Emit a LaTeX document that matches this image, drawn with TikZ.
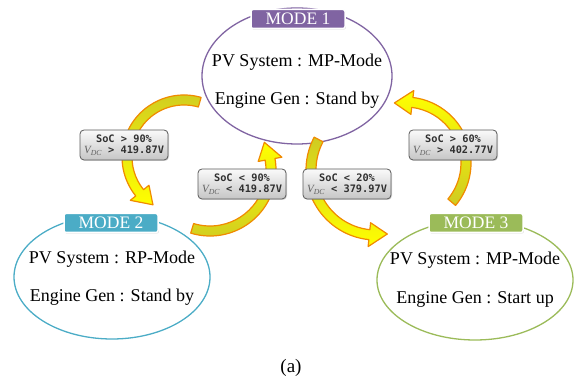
\documentclass[tikz,border=0pt]{standalone}
\usepackage{fontspec}
\setmainfont{Liberation Serif}
\newfontfamily\condfont{DejaVu Sans Mono}
\usetikzlibrary{shapes.geometric,shadows}

\definecolor{modeA}{HTML}{8064A2}
\definecolor{modeB}{HTML}{4BACC6}
\definecolor{modeC}{HTML}{9BBB59}
\definecolor{arrowline}{HTML}{F08A00}
\definecolor{arrowdark}{HTML}{CFCB22}
\definecolor{arrowlight}{HTML}{FFFF00}
\definecolor{condtext}{HTML}{303030}
\definecolor{condv}{HTML}{606060}
\definecolor{condborder}{HTML}{5A5A5A}

% thick curved block arrow: center, radius, tail angle, tip angle, fill options
\newcommand{\curvedarrow}[5]{%
  \pgfmathsetmacro\headang{18/#2*57.2958}%
  \pgfmathsetmacro\headbase{#4-\headang}%
  \pgfmathsetmacro\rout{#2+5}%
  \pgfmathsetmacro\rin{#2-5}%
  \pgfmathsetmacro\hout{#2+12}%
  \pgfmathsetmacro\hin{#2-12}%
  \path[arrowbody,#5,shift={(#1)}]
    (#3:\rout) arc[start angle=#3, end angle=\headbase, radius=\rout]
    -- (\headbase:\hout) -- (#4:#2) -- (\headbase:\hin) -- (\headbase:\rin)
    arc[start angle=\headbase, end angle=#3, radius=\rin] -- cycle;
}
\newcommand{\vdc}{{\normalfont\itshape\fontsize{11}{11}\selectfont\color{condv}V\textsubscript{DC}}}

\begin{document}
\begin{tikzpicture}[x=1pt,y=1pt,
  arrowbody/.style={draw=arrowline, line width=1.2pt, line join=round},
  modeellipse/.style={ellipse, draw=#1, line width=1.3pt, inner sep=0pt},
  modetext/.style={anchor=base, font=\fontsize{18}{20}\selectfont, text=black},
  modelabel/.style={rounded corners=2pt, fill=#1, draw=white, line width=1.5pt,
    minimum width=94pt, minimum height=19pt, inner sep=0pt, text=white,
    font=\fontsize{17.5}{17.5}\selectfont,
    drop shadow={shadow xshift=0.8pt, shadow yshift=-1pt, opacity=0.35}},
  condbox/.style={rounded corners=4pt, draw=condborder, line width=0.8pt,
    top color=white!96!gray, bottom color=gray!45, minimum width=88pt,
    minimum height=30pt, inner sep=1pt, align=center, text=condtext,
    font=\condfont\bfseries\fontsize{10.3}{11.5}\selectfont,
    drop shadow={shadow xshift=1pt, shadow yshift=-1pt, opacity=0.3}}]
\useasboundingbox (0,0) rectangle (575,385);

% the three operating modes
\node[modeellipse=modeA, minimum width=190pt, minimum height=136pt] (m1) at (297,309) {};
\node[modeellipse=modeB, minimum width=196pt, minimum height=124pt] (m2) at (112,108) {};
\node[modeellipse=modeC, minimum width=196pt, minimum height=120pt] (m3) at (475,105) {};

\node[modetext] (m1a) at (297,318) {PV System : MP-Mode};
\node[modetext] (m1b) at (297,280) {Engine Gen : Stand by};
\node[modetext] (m2a) at (112,121) {PV System : RP-Mode};
\node[modetext] (m2b) at (112,83) {Engine Gen : Stand by};
\node[modetext] (m3a) at (475,120) {PV System : MP-Mode};
\node[modetext] (m3b) at (475,81) {Engine Gen : Start up};

% transitions between the modes
\curvedarrow{184,228}{57}{74}{237}{top color=arrowdark, bottom color=arrowlight}
\curvedarrow{210,215}{61}{-107}{27}{bottom color=arrowdark, top color=arrowlight}
\curvedarrow{376,215}{65}{152}{280}{top color=arrowdark, bottom color=arrowlight}
\curvedarrow{405,222}{61}{-40}{100}{bottom color=arrowdark, top color=arrowlight}

% transition conditions
\node[condbox] (c12) at (124,240) {SoC > 90\%\\\vdc{} > 419.87V};
\node[condbox] (c21) at (242,201) {SoC < 90\%\\\vdc{} < 419.87V};
\node[condbox] (c13) at (347,201) {SoC < 20\%\\\vdc{} < 379.97V};
\node[condbox] (c31) at (453,240) {SoC > 60\%\\\vdc{} > 402.77V};

% mode labels
\node[modelabel=modeA] (l1) at (298,366) {MODE 1};
\node[modelabel=modeB] (l2) at (111,162) {MODE 2};
\node[modelabel=modeC] (l3) at (476,162) {MODE 3};

\node[font=\fontsize{19}{19}\selectfont] (cap) at (291,17) {(a)};
\end{tikzpicture}
\end{document}
